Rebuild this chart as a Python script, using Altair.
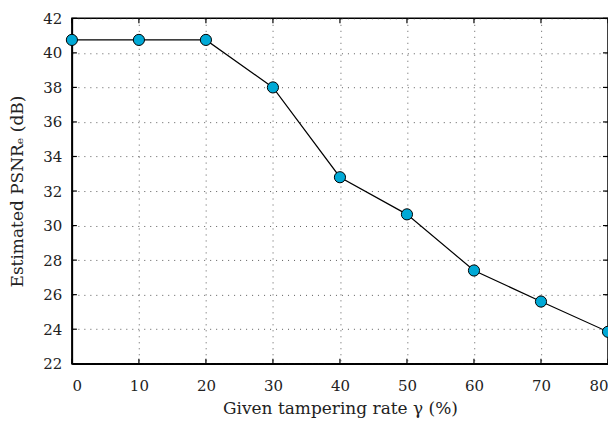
import altair as alt
import pandas as pd

# Data
rate = [0, 10, 20, 30, 40, 50, 60, 70, 80]
psnr = [40.75, 40.75, 40.75, 38.0, 32.8, 30.65, 27.4, 25.6, 23.85]
x_ticks = [0, 10, 20, 30, 40, 50, 60, 70, 80]
y_ticks = [22, 24, 26, 28, 30, 32, 34, 36, 38, 40, 42]

W, H = 537, 346
FONT = "DejaVu Serif"

df = pd.DataFrame({"rate": rate, "psnr": psnr})
xt = pd.DataFrame({"t": x_ticks})
yt = pd.DataFrame({"t": y_ticks})

xs = alt.Scale(domain=[0, 80], nice=False, zero=False)
ys = alt.Scale(domain=[22, 42], nice=False, zero=False)

xaxis = alt.Axis(values=x_ticks, title="Given tampering rate γ (%)", format="d",
                 labelPadding=15, titlePadding=7)
yaxis = alt.Axis(values=y_ticks, title="Estimated PSNRₑ (dB)", format="d",
                 labelPadding=10, titlePadding=16)

line = alt.Chart(df).mark_line(color="black", strokeWidth=1.2).encode(
    x=alt.X("rate:Q", scale=xs, axis=xaxis),
    y=alt.Y("psnr:Q", scale=ys, axis=yaxis),
)
pts = alt.Chart(df).mark_circle(color="#00a9d6", stroke="black", strokeWidth=1,
                                size=125, opacity=1).encode(
    x=alt.X("rate:Q", scale=xs, axis=xaxis),
    y=alt.Y("psnr:Q", scale=ys, axis=yaxis),
)

tick_len = 5
xb = alt.Chart(xt).mark_rule(color="black", strokeWidth=1.2).encode(
    x=alt.X("t:Q", scale=xs, axis=xaxis), y=alt.value(H), y2=alt.value(H - tick_len))
xtop = alt.Chart(xt).mark_rule(color="black", strokeWidth=1.2).encode(
    x=alt.X("t:Q", scale=xs, axis=xaxis), y=alt.value(0), y2=alt.value(tick_len))
yl = alt.Chart(yt).mark_rule(color="black", strokeWidth=1.2).encode(
    y=alt.Y("t:Q", scale=ys, axis=yaxis), x=alt.value(0), x2=alt.value(tick_len))
yr = alt.Chart(yt).mark_rule(color="black", strokeWidth=1.2).encode(
    y=alt.Y("t:Q", scale=ys, axis=yaxis), x=alt.value(W), x2=alt.value(W - tick_len))

chart = alt.layer(line, xb, xtop, yl, yr, pts).properties(
    width=W, height=H,
    autosize=alt.AutoSizeParams(type="none"),
    padding={"left": 64, "top": 10, "right": 0, "bottom": 56},
).configure_view(
    stroke="black", strokeWidth=1.5
).configure_axis(
    grid=True, gridDash=[1, 5], gridColor="#333", gridOpacity=0.8, gridWidth=1,
    ticks=False, domain=True, domainColor="black", domainWidth=1.5,
    labelFont=FONT, labelFontSize=15, labelColor="#222",
    titleFont=FONT, titleFontSize=17, titleFontWeight="normal", titleColor="#222",
)

chart.save("out.html", embed_options={"renderer": "svg", "actions": False})
